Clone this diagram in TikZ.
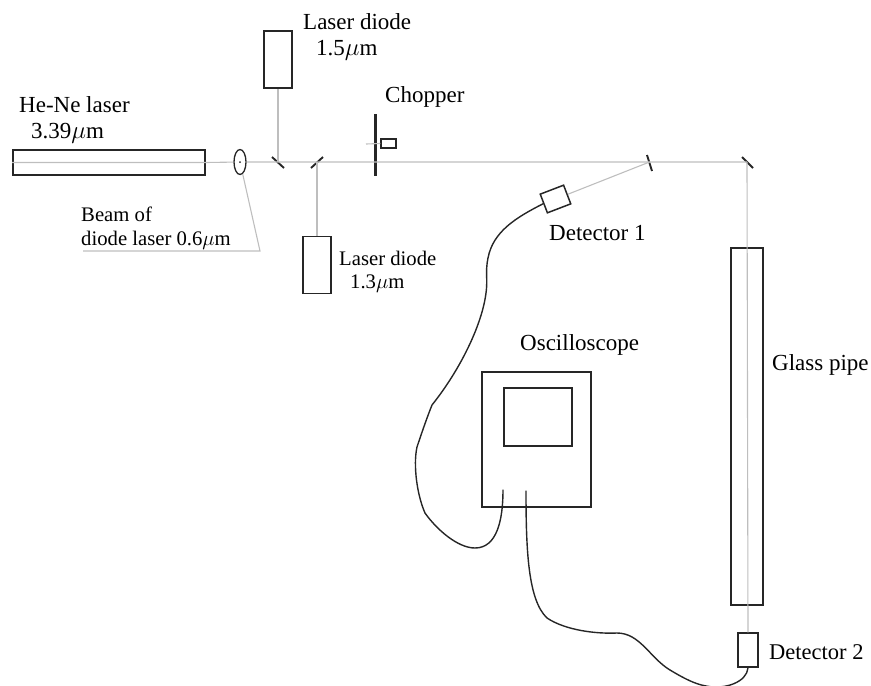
\documentclass[tikz,border=0pt]{standalone}
\usepackage{fontspec}
\setmainfont{Liberation Serif}
\usetikzlibrary{shapes.geometric, positioning, calc}
\definecolor{beamgrey}{HTML}{BEBEBE}
\definecolor{edgedark}{HTML}{262626}

\begin{document}
\begin{tikzpicture}[
    x=1pt, y=-1pt,
    % ── Node styles ──────────────────────────────────────────────────────
    box/.style={
        draw=edgedark, rectangle, line width=1.8pt, inner sep=0pt
    },
    laserdiode/.style={box, minimum width=28pt, minimum height=57pt},
    lensnode/.style={
        draw=edgedark, ellipse, line width=1.3pt, inner sep=0pt,
        minimum width=12pt, minimum height=25pt
    },
    dotnode/.style={circle, fill=edgedark, inner sep=0pt, minimum size=2.5pt},
    lab/.style={
        font=\fontsize{23}{26}\selectfont, text=black, anchor=base west,
        inner sep=0pt
    },
    smalllab/.style={lab, font=\fontsize{20.7}{24}\selectfont},
    midlab/.style={lab, font=\fontsize{22.5}{25}\selectfont},
    % ── Line styles ──────────────────────────────────────────────────────
    beam/.style={draw=beamgrey, line width=1.1pt},
    mirror/.style={draw=edgedark, line width=1.9pt},
    cable/.style={draw=edgedark, line width=1.4pt, line cap=round}
]
\useasboundingbox (0,0) rectangle (871,686);

% ═══════════════════════════════════════════════════════════════════════════
% Sources
% ═══════════════════════════════════════════════════════════════════════════
\node[box, minimum width=192pt, minimum height=25pt] (henelaser) at (109,162.5) {};
\node[lensnode] (lens) at (240,162) {};
\node[dotnode, minimum size=2pt] (lensdot) at (240,162) {};
\node[laserdiode] (diodeup) at (278,59.5) {};
\node[laserdiode] (diodedown) at (317,265) {};

% Mirrors and end points of the beams
\coordinate (mirrorA) at (278,162);
\coordinate (mirrorB) at (317,162);
\coordinate (mirrorC) at (649.5,162);
\coordinate (mirrorD) at (747,162);
\coordinate (bend) at (260,251);
\coordinate (beamend) at (83,251);
\coordinate (tickend) at (366,144);

\draw[mirror] ($(mirrorA)+(-6,-5)$) -- ($(mirrorA)+(6,6)$);
\draw[mirror] ($(mirrorB)+(-6,6)$) -- ($(mirrorB)+(6,-5)$);
\draw[mirror] ($(mirrorC)+(-2.5,-7)$) -- ($(mirrorC)+(2.5,9)$);
\draw[mirror] ($(mirrorD)+(-5,-5)$) -- ($(mirrorD)+(6,6)$);

% ═══════════════════════════════════════════════════════════════════════════
% Chopper
% ═══════════════════════════════════════════════════════════════════════════
\coordinate (choptop) at (375.5,114);
\coordinate (chopbot) at (375.5,176);
\draw[draw=edgedark, line width=3.2pt] (choptop) -- (chopbot);
\node[box, line width=1.4pt, minimum width=15pt, minimum height=9pt] (chopblock) at (388.5,143.5) {};

% ═══════════════════════════════════════════════════════════════════════════
% Detectors, pipe, oscilloscope
% ═══════════════════════════════════════════════════════════════════════════
\node[box, line width=1.5pt, rotate=21, minimum width=25pt, minimum height=20pt] (detone) at (555.5,199) {};
\node[box, minimum width=32pt, minimum height=357pt] (pipe) at (747,426.5) {};
\node[box, line width=1.5pt, minimum width=20pt, minimum height=34pt] (dettwo) at (748,650) {};
\node[box, minimum width=109pt, minimum height=135pt] (scope) at (536.5,439.5) {};
\node[box, minimum width=68pt, minimum height=58pt] (screen) at (538,417) {};
\coordinate (plugA) at (503,490);
\coordinate (plugB) at (526,491);

% Beams
\draw[beam] (henelaser.west) -- (henelaser.east) -- (lens) -- (mirrorD);
\draw[beam] (diodeup) -- (mirrorA);
\draw[beam] (diodedown) -- (mirrorB);
\draw[beam] (tickend) -- (chopblock.west);
\draw[beam] (mirrorC) -- (detone.east);
\draw[beam] (mirrorD) -- (dettwo.north);
\draw[beam] (lens) -- (bend) -- (beamend);

% Cables
\draw[cable] (detone.west) .. controls (515,218) and (493,232) .. (488,258)
    .. controls (485,273) and (488,278) .. (486,293)
    .. controls (482,325) and (460,370) .. (432,405)
    .. controls (426,420) and (420,438) .. (417,447)
    .. controls (413,465) and (417,495) .. (425,513)
    .. controls (437,530) and (458,548) .. (475,548)
    .. controls (497,548) and (503,520) .. (plugA);
\draw[cable] (plugB) .. controls (526,550) and (528,600) .. (547,618)
    .. controls (565,630) and (595,634) .. (617,633)
    .. controls (640,633) and (650,658) .. (670,670)
    .. controls (685,679) and (695,684) .. (706,686)
    .. controls (725,690) and (747,682) .. (dettwo.south);

% ═══════════════════════════════════════════════════════════════════════════
% Labels
% ═══════════════════════════════════════════════════════════════════════════
\node[lab] (labhene) at (19,112) {He-Ne laser};
\node[lab] (labhenewave) at (31,138) {3.39$\mu$m};
\node[smalllab] (labbeam) at (81,221) {Beam of};
\node[smalllab] (labbeamwave) at (81,245) {diode laser 0.6$\mu$m};
\node[lab] (labup) at (303,29) {Laser diode};
\node[lab] (labupwave) at (316,55) {1.5$\mu$m};
\node[smalllab] (labdown) at (339,265) {Laser diode};
\node[smalllab] (labdownwave) at (350,288) {1.3$\mu$m};
\node[lab] (labchop) at (385,102) {Chopper};
\node[lab] (labdetone) at (549,240) {Detector 1};
\node[lab] (labscope) at (520,350) {Oscilloscope};
\node[lab] (labpipe) at (772,370) {Glass pipe};
\node[midlab] (labdettwo) at (769,659) {Detector 2};

\end{tikzpicture}
\end{document}
